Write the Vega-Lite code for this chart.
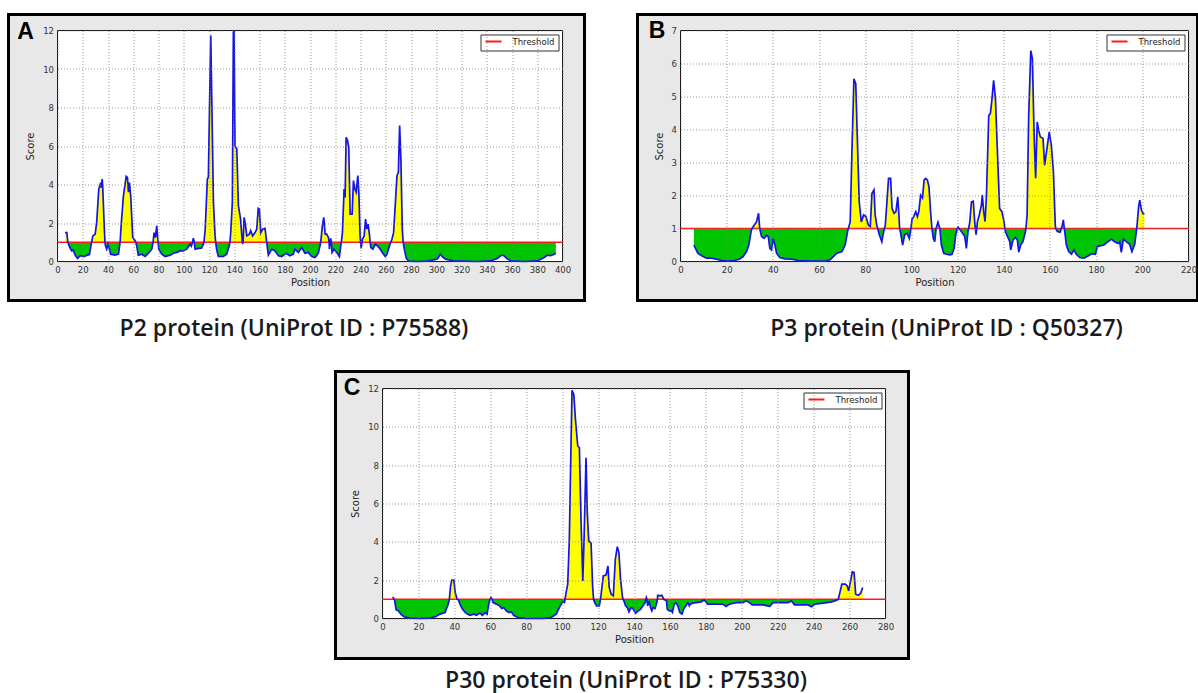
{
  "$schema": "https://vega.github.io/schema/vega-lite/v6.json",
  "background": "white",
  "padding": {"left": 6.5, "top": 12.5, "right": 0, "bottom": 2},
  "config": {
    "view": {"stroke": null},
    "axis": {"grid": true, "gridColor": "#808080", "gridDash": [1, 2], "gridWidth": 0.8, "domain": false, "ticks": false, "labelFont": "DejaVu Sans", "labelFontSize": 8.5, "labelColor": "#333", "labelPadding": 4, "labelFlush": false, "labelOverlap": false, "titleFont": "DejaVu Sans", "titleFontSize": 10, "titleFontWeight": "normal", "titleColor": "#222"},
    "axisX": {"titlePadding": 3},
    "axisY": {"titlePadding": 7},
    "legend": {"orient": "top-right", "offset": 4, "padding": 4, "strokeColor": "#333", "fillColor": "white", "labelFont": "DejaVu Sans", "labelFontSize": 8.5, "labelColor": "#222", "symbolType": "stroke", "symbolStrokeWidth": 2, "symbolSize": 256, "labelOffset": 10, "clipHeight": 6, "cornerRadius": 0},
    "title": {"orient": "bottom", "anchor": "middle", "frame": "group", "font": "Open Sans", "fontSize": 23, "fontWeight": 600, "color": "#1a1a1a", "offset": 16}
  },
  "datasets": {
    "p2": [
      {"pos": 6, "score": 1.5}, {"pos": 7.4, "score": 1.5}, {"pos": 8.2, "score": 1.0}, {"pos": 8.7, "score": 0.9}, {"pos": 10, "score": 0.7}, {"pos": 11.3, "score": 0.55}, {"pos": 12.5, "score": 0.6}, {"pos": 14, "score": 0.33}, {"pos": 15.8, "score": 0.16}, {"pos": 18, "score": 0.3}, {"pos": 20.6, "score": 0.26}, {"pos": 23.7, "score": 0.33}, {"pos": 25.3, "score": 0.36}, {"pos": 26.4, "score": 0.8}, {"pos": 27, "score": 1.0}, {"pos": 28, "score": 1.33}, {"pos": 29.8, "score": 1.42}, {"pos": 31, "score": 2.0}, {"pos": 32.7, "score": 3.76}, {"pos": 33.8, "score": 4.0}, {"pos": 34.6, "score": 3.85}, {"pos": 35.4, "score": 4.28}, {"pos": 35.9, "score": 3.76}, {"pos": 36.9, "score": 2.03}, {"pos": 37.6, "score": 1.0}, {"pos": 38, "score": 0.82}, {"pos": 39, "score": 0.64}, {"pos": 40, "score": 0.9}, {"pos": 41.2, "score": 0.64}, {"pos": 42.2, "score": 0.38}, {"pos": 45.6, "score": 0.33}, {"pos": 48.3, "score": 0.38}, {"pos": 49.6, "score": 1.0}, {"pos": 50.4, "score": 1.86}, {"pos": 52.2, "score": 3.4}, {"pos": 54.4, "score": 4.42}, {"pos": 55.4, "score": 4.37}, {"pos": 56.2, "score": 3.6}, {"pos": 57, "score": 4.1}, {"pos": 58, "score": 3.4}, {"pos": 59.6, "score": 1.25}, {"pos": 61.5, "score": 1.08}, {"pos": 62, "score": 1.0}, {"pos": 62.8, "score": 0.8}, {"pos": 64, "score": 0.33}, {"pos": 66.8, "score": 0.38}, {"pos": 69.4, "score": 0.26}, {"pos": 72, "score": 0.43}, {"pos": 74.7, "score": 0.64}, {"pos": 75.7, "score": 1.0}, {"pos": 76.5, "score": 1.5}, {"pos": 77.6, "score": 1.25}, {"pos": 78.6, "score": 1.86}, {"pos": 79.4, "score": 1.16}, {"pos": 79.7, "score": 1.0}, {"pos": 80.2, "score": 0.64}, {"pos": 82.6, "score": 0.38}, {"pos": 85.2, "score": 0.26}, {"pos": 89.2, "score": 0.33}, {"pos": 91.8, "score": 0.43}, {"pos": 94.5, "score": 0.47}, {"pos": 97, "score": 0.55}, {"pos": 99.7, "score": 0.55}, {"pos": 102.4, "score": 0.64}, {"pos": 105, "score": 0.9}, {"pos": 106, "score": 0.8}, {"pos": 107, "score": 1.0}, {"pos": 107.6, "score": 1.21}, {"pos": 108.3, "score": 1.0}, {"pos": 109, "score": 0.64}, {"pos": 111.6, "score": 0.68}, {"pos": 114, "score": 0.69}, {"pos": 115.6, "score": 0.9}, {"pos": 116, "score": 1.0}, {"pos": 117, "score": 1.68}, {"pos": 118.7, "score": 4.28}, {"pos": 119.5, "score": 4.37}, {"pos": 120.3, "score": 7.58}, {"pos": 121.4, "score": 11.74}, {"pos": 122.2, "score": 8.45}, {"pos": 123.5, "score": 3.07}, {"pos": 124.8, "score": 1.33}, {"pos": 125.3, "score": 1.0}, {"pos": 126, "score": 0.64}, {"pos": 127.4, "score": 0.26}, {"pos": 131.4, "score": 0.26}, {"pos": 134, "score": 0.38}, {"pos": 136, "score": 0.82}, {"pos": 136.6, "score": 1.0}, {"pos": 137.2, "score": 1.5}, {"pos": 138.5, "score": 3.07}, {"pos": 139.3, "score": 11.9}, {"pos": 139.8, "score": 12.0}, {"pos": 140.6, "score": 6.0}, {"pos": 142, "score": 5.84}, {"pos": 143.3, "score": 2.9}, {"pos": 145, "score": 2.2}, {"pos": 146.4, "score": 1.0}, {"pos": 146.7, "score": 0.9}, {"pos": 147, "score": 1.0}, {"pos": 147.8, "score": 2.29}, {"pos": 148.8, "score": 1.94}, {"pos": 149.9, "score": 1.33}, {"pos": 152, "score": 1.42}, {"pos": 153, "score": 1.6}, {"pos": 154.6, "score": 1.33}, {"pos": 156.5, "score": 1.5}, {"pos": 157.8, "score": 1.68}, {"pos": 159, "score": 2.76}, {"pos": 159.9, "score": 2.72}, {"pos": 161, "score": 1.5}, {"pos": 162.5, "score": 1.68}, {"pos": 164.4, "score": 1.72}, {"pos": 165.7, "score": 1.0}, {"pos": 167, "score": 0.33}, {"pos": 169.7, "score": 0.64}, {"pos": 172.3, "score": 0.55}, {"pos": 175, "score": 0.3}, {"pos": 177.6, "score": 0.26}, {"pos": 181, "score": 0.43}, {"pos": 184, "score": 0.3}, {"pos": 186.8, "score": 0.38}, {"pos": 188, "score": 0.64}, {"pos": 190.7, "score": 0.47}, {"pos": 193.4, "score": 0.73}, {"pos": 196, "score": 0.43}, {"pos": 198.7, "score": 0.47}, {"pos": 201.3, "score": 0.26}, {"pos": 204, "score": 0.21}, {"pos": 206.6, "score": 0.43}, {"pos": 208.5, "score": 1.0}, {"pos": 209.8, "score": 1.86}, {"pos": 210.9, "score": 2.29}, {"pos": 212, "score": 1.42}, {"pos": 213.2, "score": 1.42}, {"pos": 214.6, "score": 1.25}, {"pos": 215.1, "score": 1.0}, {"pos": 215.4, "score": 0.64}, {"pos": 215.9, "score": 1.0}, {"pos": 216.4, "score": 1.2}, {"pos": 216.9, "score": 1.0}, {"pos": 217.5, "score": 0.47}, {"pos": 219, "score": 0.64}, {"pos": 221.2, "score": 0.47}, {"pos": 223.3, "score": 0.26}, {"pos": 224.4, "score": 0.82}, {"pos": 224.8, "score": 1.0}, {"pos": 225.7, "score": 1.5}, {"pos": 227, "score": 3.76}, {"pos": 227.8, "score": 3.33}, {"pos": 228.6, "score": 6.45}, {"pos": 229.7, "score": 6.28}, {"pos": 230.7, "score": 5.93}, {"pos": 231.8, "score": 2.46}, {"pos": 233.4, "score": 2.46}, {"pos": 234.4, "score": 4.2}, {"pos": 235.5, "score": 3.76}, {"pos": 236.6, "score": 3.6}, {"pos": 237.9, "score": 4.46}, {"pos": 238.7, "score": 3.6}, {"pos": 239.7, "score": 1.33}, {"pos": 240.1, "score": 1.0}, {"pos": 240.5, "score": 0.68}, {"pos": 241.2, "score": 1.0}, {"pos": 241.6, "score": 1.16}, {"pos": 242.9, "score": 1.33}, {"pos": 244, "score": 2.2}, {"pos": 245, "score": 1.68}, {"pos": 246, "score": 1.94}, {"pos": 247.2, "score": 1.33}, {"pos": 247.6, "score": 1.0}, {"pos": 248.2, "score": 0.73}, {"pos": 249.8, "score": 0.64}, {"pos": 251.7, "score": 0.9}, {"pos": 253.5, "score": 0.82}, {"pos": 255.6, "score": 0.64}, {"pos": 257.7, "score": 0.43}, {"pos": 259.6, "score": 0.26}, {"pos": 261, "score": 0.38}, {"pos": 263, "score": 0.82}, {"pos": 264, "score": 1.0}, {"pos": 264.9, "score": 1.16}, {"pos": 266.2, "score": 1.5}, {"pos": 267.5, "score": 2.9}, {"pos": 268.9, "score": 4.46}, {"pos": 270, "score": 4.63}, {"pos": 271, "score": 7.06}, {"pos": 272, "score": 5.32}, {"pos": 273.1, "score": 1.68}, {"pos": 273.8, "score": 1.0}, {"pos": 274.7, "score": 0.64}, {"pos": 276.3, "score": 0.16}, {"pos": 278.1, "score": 0.02}, {"pos": 284.8, "score": 0}, {"pos": 292.7, "score": 0.02}, {"pos": 296.7, "score": 0.07}, {"pos": 300.7, "score": 0.12}, {"pos": 303.3, "score": 0.38}, {"pos": 304.6, "score": 0.26}, {"pos": 307.3, "score": 0.12}, {"pos": 313.9, "score": 0.03}, {"pos": 321.9, "score": 0.02}, {"pos": 332.5, "score": 0}, {"pos": 343, "score": 0.03}, {"pos": 348.3, "score": 0.16}, {"pos": 351, "score": 0.3}, {"pos": 353.1, "score": 0.33}, {"pos": 355.8, "score": 0.16}, {"pos": 358.9, "score": 0.03}, {"pos": 369.5, "score": 0}, {"pos": 380.1, "score": 0.03}, {"pos": 385.4, "score": 0.21}, {"pos": 388, "score": 0.33}, {"pos": 390.7, "score": 0.3}, {"pos": 393.4, "score": 0.38}, {"pos": 394.7, "score": 0.43}
    ],
    "p3": [
      {"pos": 5.8, "score": 0.5}, {"pos": 6.8, "score": 0.35}, {"pos": 7.5, "score": 0.25}, {"pos": 9, "score": 0.18}, {"pos": 11.2, "score": 0.1}, {"pos": 13.3, "score": 0.1}, {"pos": 15.5, "score": 0.07}, {"pos": 17.7, "score": 0.03}, {"pos": 20.6, "score": 0.01}, {"pos": 23.5, "score": 0.03}, {"pos": 25.7, "score": 0.08}, {"pos": 27.1, "score": 0.15}, {"pos": 28.6, "score": 0.3}, {"pos": 29.6, "score": 0.5}, {"pos": 30.7, "score": 0.96}, {"pos": 31, "score": 1.0}, {"pos": 31.9, "score": 1.1}, {"pos": 32.9, "score": 1.2}, {"pos": 33.8, "score": 1.46}, {"pos": 34.3, "score": 1.0}, {"pos": 35.1, "score": 0.76}, {"pos": 36.2, "score": 0.7}, {"pos": 37.2, "score": 0.79}, {"pos": 38, "score": 0.76}, {"pos": 38.7, "score": 0.4}, {"pos": 39.4, "score": 0.35}, {"pos": 40.1, "score": 0.7}, {"pos": 40.9, "score": 0.5}, {"pos": 41.6, "score": 0.25}, {"pos": 43, "score": 0.12}, {"pos": 45.2, "score": 0.08}, {"pos": 48.1, "score": 0.07}, {"pos": 51, "score": 0.03}, {"pos": 56.8, "score": 0.01}, {"pos": 62.6, "score": 0.01}, {"pos": 64.8, "score": 0.05}, {"pos": 66.2, "score": 0.15}, {"pos": 67.7, "score": 0.25}, {"pos": 69.9, "score": 0.3}, {"pos": 71.3, "score": 0.5}, {"pos": 72.5, "score": 0.96}, {"pos": 72.7, "score": 1.0}, {"pos": 73.5, "score": 1.2}, {"pos": 74.2, "score": 3.22}, {"pos": 75.1, "score": 5.54}, {"pos": 75.9, "score": 5.39}, {"pos": 76.5, "score": 3.93}, {"pos": 77.4, "score": 1.81}, {"pos": 78.3, "score": 1.2}, {"pos": 79.3, "score": 1.41}, {"pos": 80.3, "score": 1.36}, {"pos": 81.4, "score": 1.1}, {"pos": 82.2, "score": 1.06}, {"pos": 82.9, "score": 2.06}, {"pos": 83.8, "score": 2.17}, {"pos": 84.3, "score": 1.41}, {"pos": 85, "score": 1.1}, {"pos": 85.4, "score": 1.0}, {"pos": 86.1, "score": 0.81}, {"pos": 87.2, "score": 0.6}, {"pos": 88, "score": 0.91}, {"pos": 88.3, "score": 1.0}, {"pos": 88.7, "score": 1.1}, {"pos": 89.4, "score": 1.81}, {"pos": 90.1, "score": 2.52}, {"pos": 91, "score": 2.52}, {"pos": 91.6, "score": 1.61}, {"pos": 92.5, "score": 1.46}, {"pos": 93.3, "score": 1.51}, {"pos": 94.1, "score": 1.96}, {"pos": 94.5, "score": 1.51}, {"pos": 94.9, "score": 1.0}, {"pos": 95.2, "score": 0.91}, {"pos": 96.2, "score": 0.5}, {"pos": 97.1, "score": 0.81}, {"pos": 98.1, "score": 0.86}, {"pos": 99.1, "score": 0.7}, {"pos": 99.8, "score": 1.0}, {"pos": 100.3, "score": 1.29}, {"pos": 101, "score": 1.36}, {"pos": 101.9, "score": 1.51}, {"pos": 102.6, "score": 1.36}, {"pos": 103.2, "score": 1.51}, {"pos": 104, "score": 2.01}, {"pos": 104.8, "score": 1.93}, {"pos": 105.5, "score": 2.47}, {"pos": 106.2, "score": 2.52}, {"pos": 106.9, "score": 2.47}, {"pos": 107.6, "score": 2.27}, {"pos": 108.4, "score": 1.41}, {"pos": 108.9, "score": 1.0}, {"pos": 109.5, "score": 0.7}, {"pos": 110.1, "score": 0.6}, {"pos": 110.7, "score": 1.0}, {"pos": 111.5, "score": 1.19}, {"pos": 112.3, "score": 1.0}, {"pos": 113, "score": 0.5}, {"pos": 114, "score": 0.25}, {"pos": 115.2, "score": 0.22}, {"pos": 116.6, "score": 0.2}, {"pos": 117.6, "score": 0.22}, {"pos": 118.5, "score": 0.4}, {"pos": 119.2, "score": 0.81}, {"pos": 119.9, "score": 1.0}, {"pos": 120.2, "score": 1.04}, {"pos": 120.6, "score": 1.0}, {"pos": 121.1, "score": 0.96}, {"pos": 122.1, "score": 0.86}, {"pos": 123.1, "score": 0.76}, {"pos": 123.8, "score": 0.4}, {"pos": 124.5, "score": 0.91}, {"pos": 124.8, "score": 1.0}, {"pos": 125.3, "score": 1.21}, {"pos": 126, "score": 1.81}, {"pos": 126.8, "score": 1.83}, {"pos": 127.4, "score": 1.21}, {"pos": 127.7, "score": 1.0}, {"pos": 128, "score": 0.81}, {"pos": 128.3, "score": 1.0}, {"pos": 128.6, "score": 1.21}, {"pos": 129.4, "score": 1.41}, {"pos": 130.3, "score": 1.71}, {"pos": 130.7, "score": 2.01}, {"pos": 131.3, "score": 1.51}, {"pos": 131.9, "score": 1.21}, {"pos": 132.5, "score": 2.01}, {"pos": 133.5, "score": 4.43}, {"pos": 134.2, "score": 4.48}, {"pos": 134.9, "score": 4.93}, {"pos": 135.6, "score": 5.49}, {"pos": 136.4, "score": 4.93}, {"pos": 137.2, "score": 3.42}, {"pos": 138.2, "score": 1.61}, {"pos": 139.2, "score": 1.51}, {"pos": 140.1, "score": 1.21}, {"pos": 140.5, "score": 1.0}, {"pos": 140.7, "score": 0.91}, {"pos": 141.6, "score": 0.76}, {"pos": 142.6, "score": 0.6}, {"pos": 143, "score": 0.35}, {"pos": 144, "score": 0.65}, {"pos": 145, "score": 0.73}, {"pos": 145.9, "score": 0.65}, {"pos": 146.5, "score": 0.28}, {"pos": 147.3, "score": 0.5}, {"pos": 148.3, "score": 0.6}, {"pos": 149.4, "score": 0.91}, {"pos": 149.6, "score": 1.0}, {"pos": 150.1, "score": 1.41}, {"pos": 150.8, "score": 4.43}, {"pos": 151.7, "score": 6.39}, {"pos": 152.4, "score": 6.14}, {"pos": 153.1, "score": 3.93}, {"pos": 153.8, "score": 2.52}, {"pos": 154.5, "score": 4.23}, {"pos": 155.1, "score": 3.98}, {"pos": 155.8, "score": 3.78}, {"pos": 157, "score": 3.73}, {"pos": 157.7, "score": 2.92}, {"pos": 158.7, "score": 3.42}, {"pos": 159.7, "score": 3.93}, {"pos": 160.6, "score": 3.52}, {"pos": 161.5, "score": 2.72}, {"pos": 162.3, "score": 1.11}, {"pos": 162.5, "score": 1.0}, {"pos": 163.2, "score": 0.91}, {"pos": 164.4, "score": 0.89}, {"pos": 164.9, "score": 1.0}, {"pos": 165.1, "score": 1.02}, {"pos": 165.8, "score": 1.26}, {"pos": 166.2, "score": 1.0}, {"pos": 166.4, "score": 0.91}, {"pos": 167.1, "score": 0.5}, {"pos": 168.1, "score": 0.3}, {"pos": 169.3, "score": 0.22}, {"pos": 170.4, "score": 0.35}, {"pos": 171.4, "score": 0.22}, {"pos": 172.9, "score": 0.12}, {"pos": 174.7, "score": 0.1}, {"pos": 176.5, "score": 0.17}, {"pos": 178.2, "score": 0.24}, {"pos": 179.7, "score": 0.22}, {"pos": 180.5, "score": 0.45}, {"pos": 182, "score": 0.48}, {"pos": 183.4, "score": 0.5}, {"pos": 185.1, "score": 0.6}, {"pos": 186.6, "score": 0.68}, {"pos": 188, "score": 0.6}, {"pos": 189.5, "score": 0.55}, {"pos": 190.2, "score": 0.6}, {"pos": 190.9, "score": 0.28}, {"pos": 191.8, "score": 0.68}, {"pos": 193.1, "score": 0.6}, {"pos": 194.5, "score": 0.52}, {"pos": 195.5, "score": 0.3}, {"pos": 196.7, "score": 0.52}, {"pos": 197.5, "score": 0.96}, {"pos": 197.6, "score": 1.0}, {"pos": 198.4, "score": 1.66}, {"pos": 198.9, "score": 1.86}, {"pos": 199.6, "score": 1.56}, {"pos": 200.3, "score": 1.46}, {"pos": 200.9, "score": 1.43}
    ],
    "p30": [
      {"pos": 5.7, "score": 1.13}, {"pos": 6.5, "score": 1.0}, {"pos": 6.7, "score": 0.97}, {"pos": 7.6, "score": 0.45}, {"pos": 8.9, "score": 0.4}, {"pos": 10.2, "score": 0.23}, {"pos": 12, "score": 0.09}, {"pos": 15.3, "score": 0.02}, {"pos": 20.9, "score": 0}, {"pos": 26.4, "score": 0.02}, {"pos": 29.8, "score": 0.1}, {"pos": 32, "score": 0.23}, {"pos": 34.8, "score": 0.31}, {"pos": 36.6, "score": 0.75}, {"pos": 37.2, "score": 1.0}, {"pos": 37.9, "score": 1.7}, {"pos": 38.6, "score": 2.01}, {"pos": 39.7, "score": 2.01}, {"pos": 40.5, "score": 1.35}, {"pos": 41.4, "score": 1.04}, {"pos": 41.6, "score": 1.0}, {"pos": 42.3, "score": 0.97}, {"pos": 43.1, "score": 0.75}, {"pos": 44.5, "score": 0.49}, {"pos": 46.4, "score": 0.28}, {"pos": 48.6, "score": 0.17}, {"pos": 50.8, "score": 0.23}, {"pos": 52.3, "score": 0.17}, {"pos": 54.2, "score": 0.28}, {"pos": 55.6, "score": 0.17}, {"pos": 57.1, "score": 0.31}, {"pos": 58.2, "score": 0.23}, {"pos": 59.3, "score": 0.83}, {"pos": 59.9, "score": 1.0}, {"pos": 60.4, "score": 1.09}, {"pos": 61, "score": 1.0}, {"pos": 61.6, "score": 0.83}, {"pos": 63.4, "score": 0.75}, {"pos": 65.2, "score": 0.66}, {"pos": 66.4, "score": 0.52}, {"pos": 67.5, "score": 0.57}, {"pos": 68.9, "score": 0.4}, {"pos": 70.4, "score": 0.31}, {"pos": 71.7, "score": 0.35}, {"pos": 73, "score": 0.17}, {"pos": 75.4, "score": 0.05}, {"pos": 80, "score": 0}, {"pos": 89.3, "score": 0}, {"pos": 93.9, "score": 0.05}, {"pos": 96.7, "score": 0.23}, {"pos": 98.9, "score": 0.66}, {"pos": 100.4, "score": 0.87}, {"pos": 101.3, "score": 0.83}, {"pos": 101.6, "score": 1.0}, {"pos": 102.2, "score": 1.35}, {"pos": 103.1, "score": 1.79}, {"pos": 104, "score": 4.13}, {"pos": 105, "score": 9.34}, {"pos": 105.5, "score": 11.91}, {"pos": 106.5, "score": 11.69}, {"pos": 107.4, "score": 10.39}, {"pos": 108.7, "score": 9.0}, {"pos": 109.6, "score": 8.91}, {"pos": 110.5, "score": 5.18}, {"pos": 111.5, "score": 1.96}, {"pos": 112.2, "score": 4.13}, {"pos": 113.3, "score": 8.39}, {"pos": 114, "score": 5.52}, {"pos": 114.8, "score": 4.05}, {"pos": 116.1, "score": 3.93}, {"pos": 117, "score": 1.62}, {"pos": 117.5, "score": 1.0}, {"pos": 118.1, "score": 0.83}, {"pos": 119.2, "score": 0.66}, {"pos": 120.7, "score": 0.66}, {"pos": 121.3, "score": 1.0}, {"pos": 121.6, "score": 1.18}, {"pos": 122.9, "score": 2.22}, {"pos": 124.4, "score": 2.26}, {"pos": 125.5, "score": 2.74}, {"pos": 126.2, "score": 1.62}, {"pos": 127.3, "score": 1.27}, {"pos": 128.5, "score": 1.18}, {"pos": 129.6, "score": 3.09}, {"pos": 130.7, "score": 3.75}, {"pos": 131.6, "score": 3.44}, {"pos": 132.5, "score": 2.05}, {"pos": 133.5, "score": 1.18}, {"pos": 133.9, "score": 1.0}, {"pos": 134.4, "score": 0.92}, {"pos": 135.3, "score": 0.66}, {"pos": 136.3, "score": 0.57}, {"pos": 137.2, "score": 0.35}, {"pos": 138.3, "score": 0.57}, {"pos": 139.4, "score": 0.52}, {"pos": 140.9, "score": 0.28}, {"pos": 142.4, "score": 0.4}, {"pos": 143.7, "score": 0.49}, {"pos": 145, "score": 0.66}, {"pos": 146.2, "score": 0.83}, {"pos": 146.6, "score": 1.0}, {"pos": 146.9, "score": 1.09}, {"pos": 147.2, "score": 1.0}, {"pos": 147.6, "score": 0.66}, {"pos": 148.4, "score": 0.92}, {"pos": 149.1, "score": 0.61}, {"pos": 149.9, "score": 0.4}, {"pos": 150.6, "score": 0.57}, {"pos": 151.7, "score": 0.52}, {"pos": 152.7, "score": 0.83}, {"pos": 153, "score": 1.0}, {"pos": 153.2, "score": 1.21}, {"pos": 154.4, "score": 1.18}, {"pos": 155.5, "score": 1.21}, {"pos": 156.6, "score": 1.0}, {"pos": 158.1, "score": 0.92}, {"pos": 158.5, "score": 0.49}, {"pos": 159.6, "score": 0.4}, {"pos": 160.7, "score": 0.4}, {"pos": 161.4, "score": 0.31}, {"pos": 162.4, "score": 0.75}, {"pos": 163.3, "score": 0.83}, {"pos": 164.4, "score": 0.66}, {"pos": 165.5, "score": 0.31}, {"pos": 166.7, "score": 0.23}, {"pos": 167.8, "score": 0.52}, {"pos": 168.9, "score": 0.66}, {"pos": 170, "score": 0.83}, {"pos": 170.8, "score": 0.66}, {"pos": 171.3, "score": 0.75}, {"pos": 172.6, "score": 0.8}, {"pos": 174.5, "score": 0.83}, {"pos": 177.3, "score": 0.87}, {"pos": 179.1, "score": 0.97}, {"pos": 181, "score": 0.75}, {"pos": 185.7, "score": 0.75}, {"pos": 189.4, "score": 0.75}, {"pos": 191.3, "score": 0.63}, {"pos": 193.1, "score": 0.75}, {"pos": 196.9, "score": 0.83}, {"pos": 200.6, "score": 0.83}, {"pos": 202.4, "score": 0.92}, {"pos": 204.3, "score": 0.83}, {"pos": 205.8, "score": 0.71}, {"pos": 211.8, "score": 0.71}, {"pos": 215.5, "score": 0.63}, {"pos": 217.4, "score": 0.83}, {"pos": 222.9, "score": 0.83}, {"pos": 225.7, "score": 0.83}, {"pos": 227.6, "score": 0.92}, {"pos": 229.4, "score": 0.71}, {"pos": 234.1, "score": 0.71}, {"pos": 236.9, "score": 0.71}, {"pos": 238.8, "score": 0.61}, {"pos": 240.7, "score": 0.75}, {"pos": 245.3, "score": 0.8}, {"pos": 250, "score": 0.87}, {"pos": 251.8, "score": 0.92}, {"pos": 253.7, "score": 1.0}, {"pos": 254.6, "score": 1.35}, {"pos": 255.7, "score": 1.79}, {"pos": 257.6, "score": 1.79}, {"pos": 258.7, "score": 1.7}, {"pos": 259.5, "score": 1.44}, {"pos": 260.6, "score": 1.96}, {"pos": 261.5, "score": 2.43}, {"pos": 262.5, "score": 2.4}, {"pos": 263.4, "score": 1.27}, {"pos": 264.9, "score": 1.21}, {"pos": 266.2, "score": 1.32}, {"pos": 267.3, "score": 1.62}
    ]
  },
  "spacing": 28,
  "resolve": {"scale": {"x": "independent", "y": "independent", "color": "independent"}, "legend": {"color": "independent"}},
  "vconcat": [
    {
      "spacing": 49,
      "resolve": {"scale": {"x": "independent", "y": "independent", "color": "independent"}, "legend": {"color": "independent"}},
      "hconcat": [
        {
          "width": 505, "height": 231,
          "title": {"text": "P2 protein (UniProt ID : P75588)", "dx": -16},
          "data": {"name": "p2"},
          "layer": [
            {"data": {"values": [{}]}, "mark": {"type": "rect", "fill": "#e8e8e8", "stroke": "#000", "strokeWidth": 3},
             "encoding": {
               "x": {"datum": -38.81, "type": "quantitative", "scale": {"domain": [0, 400], "nice": false, "zero": false}, "axis": {"zindex": 1, "labelOverlap": false, "values": [0,20,40,60,80,100,120,140,160,180,200,220,240,260,280,300,320,340,360,380,400], "title": "Position"}},
               "x2": {"datum": 417.43},
               "y": {"datum": -2.026, "type": "quantitative", "scale": {"domain": [0, 12], "nice": false, "zero": false}, "axis": {"zindex": 1, "labelOverlap": false, "values": [0,2,4,6,8,10,12], "title": "Score"}},
               "y2": {"datum": 12.831}}},
            {"data": {"values": [{}]}, "mark": {"type": "rect", "fill": "white", "stroke": "#111", "strokeWidth": 1},
             "encoding": {"x": {"datum": 0, "type": "quantitative", "scale": {"domain": [0, 400], "nice": false, "zero": false}, "axis": {"zindex": 1, "labelOverlap": false, "values": [0,20,40,60,80,100,120,140,160,180,200,220,240,260,280,300,320,340,360,380,400], "title": "Position"}}, "x2": {"datum": 400}, "y": {"datum": 0, "type": "quantitative", "scale": {"domain": [0, 12], "nice": false, "zero": false}, "axis": {"zindex": 1, "labelOverlap": false, "values": [0,2,4,6,8,10,12], "title": "Score"}}, "y2": {"datum": 12}}},
            {"transform": [{"filter": "datum.score <= 1"}], "mark": {"type": "area", "color": "#00c400"},
             "encoding": {"x": {"field": "pos", "type": "quantitative", "scale": {"domain": [0, 400], "nice": false, "zero": false}, "axis": {"zindex": 1, "labelOverlap": false, "values": [0,20,40,60,80,100,120,140,160,180,200,220,240,260,280,300,320,340,360,380,400], "title": "Position"}}, "y": {"field": "score", "type": "quantitative", "scale": {"domain": [0, 12], "nice": false, "zero": false}, "axis": {"zindex": 1, "labelOverlap": false, "values": [0,2,4,6,8,10,12], "title": "Score"}}, "y2": {"datum": 1}}},
            {"transform": [{"filter": "datum.score >= 1"}], "mark": {"type": "area", "color": "#ffff00"},
             "encoding": {"x": {"field": "pos", "type": "quantitative", "scale": {"domain": [0, 400], "nice": false, "zero": false}, "axis": {"zindex": 1, "labelOverlap": false, "values": [0,20,40,60,80,100,120,140,160,180,200,220,240,260,280,300,320,340,360,380,400], "title": "Position"}}, "y": {"field": "score", "type": "quantitative", "scale": {"domain": [0, 12], "nice": false, "zero": false}, "axis": {"zindex": 1, "labelOverlap": false, "values": [0,2,4,6,8,10,12], "title": "Score"}}, "y2": {"datum": 1}}},
            {"data": {"values": [{}]}, "mark": {"type": "rule", "strokeWidth": 1.5},
             "encoding": {"y": {"datum": 1, "type": "quantitative", "scale": {"domain": [0, 12], "nice": false, "zero": false}, "axis": {"zindex": 1, "labelOverlap": false, "values": [0,2,4,6,8,10,12], "title": "Score"}}, "color": {"datum": "Threshold", "type": "nominal", "scale": {"domain": ["Threshold"], "range": ["#ff1a1a"]}, "legend": {"title": null}}}},
            {"mark": {"type": "line", "color": "#1414e6", "strokeWidth": 1.7},
             "encoding": {"x": {"field": "pos", "type": "quantitative", "scale": {"domain": [0, 400], "nice": false, "zero": false}, "axis": {"zindex": 1, "labelOverlap": false, "values": [0,20,40,60,80,100,120,140,160,180,200,220,240,260,280,300,320,340,360,380,400], "title": "Position"}}, "y": {"field": "score", "type": "quantitative", "scale": {"domain": [0, 12], "nice": false, "zero": false}, "axis": {"zindex": 1, "labelOverlap": false, "values": [0,2,4,6,8,10,12], "title": "Score"}}}},
            {"data": {"values": [{}]}, "mark": {"type": "text", "text": "A", "fontSize": 23, "fontWeight": "bold", "font": "Liberation Sans", "align": "center", "baseline": "middle", "color": "#000"},
             "encoding": {"x": {"datum": -25.3, "type": "quantitative", "scale": {"domain": [0, 400], "nice": false, "zero": false}, "axis": {"zindex": 1, "labelOverlap": false, "values": [0,20,40,60,80,100,120,140,160,180,200,220,240,260,280,300,320,340,360,380,400], "title": "Position"}}, "y": {"datum": 11.92, "type": "quantitative", "scale": {"domain": [0, 12], "nice": false, "zero": false}, "axis": {"zindex": 1, "labelOverlap": false, "values": [0,2,4,6,8,10,12], "title": "Score"}}}}
          ]
        },
        {
          "width": 508, "height": 231,
          "title": {"text": "P3 protein (UniProt ID : Q50327)", "dx": 12},
          "data": {"name": "p3"},
          "layer": [
            {"data": {"values": [{}]}, "mark": {"type": "rect", "fill": "#e8e8e8", "stroke": "#000", "strokeWidth": 3},
             "encoding": {
               "x": {"datum": -18.62, "type": "quantitative", "scale": {"domain": [0, 220], "nice": false, "zero": false}, "axis": {"zindex": 1, "labelOverlap": false, "values": [0,20,40,60,80,100,120,140,160,180,200,220], "title": "Position"}},
               "x2": {"datum": 223.9},
               "y": {"datum": -1.182, "type": "quantitative", "scale": {"domain": [0, 7], "nice": false, "zero": false}, "axis": {"zindex": 1, "labelOverlap": false, "values": [0,1,2,3,4,5,6,7], "title": "Score"}},
               "y2": {"datum": 7.485}}},
            {"data": {"values": [{}]}, "mark": {"type": "rect", "fill": "white", "stroke": "#111", "strokeWidth": 1},
             "encoding": {"x": {"datum": 0, "type": "quantitative", "scale": {"domain": [0, 220], "nice": false, "zero": false}, "axis": {"zindex": 1, "labelOverlap": false, "values": [0,20,40,60,80,100,120,140,160,180,200,220], "title": "Position"}}, "x2": {"datum": 220}, "y": {"datum": 0, "type": "quantitative", "scale": {"domain": [0, 7], "nice": false, "zero": false}, "axis": {"zindex": 1, "labelOverlap": false, "values": [0,1,2,3,4,5,6,7], "title": "Score"}}, "y2": {"datum": 7}}},
            {"transform": [{"filter": "datum.score <= 1"}], "mark": {"type": "area", "color": "#00c400"},
             "encoding": {"x": {"field": "pos", "type": "quantitative", "scale": {"domain": [0, 220], "nice": false, "zero": false}, "axis": {"zindex": 1, "labelOverlap": false, "values": [0,20,40,60,80,100,120,140,160,180,200,220], "title": "Position"}}, "y": {"field": "score", "type": "quantitative", "scale": {"domain": [0, 7], "nice": false, "zero": false}, "axis": {"zindex": 1, "labelOverlap": false, "values": [0,1,2,3,4,5,6,7], "title": "Score"}}, "y2": {"datum": 1}}},
            {"transform": [{"filter": "datum.score >= 1"}], "mark": {"type": "area", "color": "#ffff00"},
             "encoding": {"x": {"field": "pos", "type": "quantitative", "scale": {"domain": [0, 220], "nice": false, "zero": false}, "axis": {"zindex": 1, "labelOverlap": false, "values": [0,20,40,60,80,100,120,140,160,180,200,220], "title": "Position"}}, "y": {"field": "score", "type": "quantitative", "scale": {"domain": [0, 7], "nice": false, "zero": false}, "axis": {"zindex": 1, "labelOverlap": false, "values": [0,1,2,3,4,5,6,7], "title": "Score"}}, "y2": {"datum": 1}}},
            {"data": {"values": [{}]}, "mark": {"type": "rule", "strokeWidth": 1.5},
             "encoding": {"y": {"datum": 1, "type": "quantitative", "scale": {"domain": [0, 7], "nice": false, "zero": false}, "axis": {"zindex": 1, "labelOverlap": false, "values": [0,1,2,3,4,5,6,7], "title": "Score"}}, "color": {"datum": "Threshold", "type": "nominal", "scale": {"domain": ["Threshold"], "range": ["#ff1a1a"]}, "legend": {"title": null}}}},
            {"mark": {"type": "line", "color": "#1414e6", "strokeWidth": 1.7},
             "encoding": {"x": {"field": "pos", "type": "quantitative", "scale": {"domain": [0, 220], "nice": false, "zero": false}, "axis": {"zindex": 1, "labelOverlap": false, "values": [0,20,40,60,80,100,120,140,160,180,200,220], "title": "Position"}}, "y": {"field": "score", "type": "quantitative", "scale": {"domain": [0, 7], "nice": false, "zero": false}, "axis": {"zindex": 1, "labelOverlap": false, "values": [0,1,2,3,4,5,6,7], "title": "Score"}}}},
            {"data": {"values": [{}]}, "mark": {"type": "text", "text": "B", "fontSize": 23, "fontWeight": "bold", "font": "Liberation Sans", "align": "center", "baseline": "middle", "color": "#000"},
             "encoding": {"x": {"datum": -10.2, "type": "quantitative", "scale": {"domain": [0, 220], "nice": false, "zero": false}, "axis": {"zindex": 1, "labelOverlap": false, "values": [0,20,40,60,80,100,120,140,160,180,200,220], "title": "Position"}}, "y": {"datum": 6.97, "type": "quantitative", "scale": {"domain": [0, 7], "nice": false, "zero": false}, "axis": {"zindex": 1, "labelOverlap": false, "values": [0,1,2,3,4,5,6,7], "title": "Score"}}}}
          ]
        }
      ]
    },
    {
      "spacing": 10,
      "resolve": {"scale": {"x": "independent", "y": "independent", "color": "independent"}, "legend": {"color": "independent"}},
      "hconcat": [
        {"width": 266, "height": 10, "data": {"values": []}, "mark": {"type": "point", "opacity": 0}},
        {
          "width": 503, "height": 230,
          "title": {"text": "P30 protein (UniProt ID : P75330)", "dx": -8, "offset": 10},
          "data": {"name": "p30"},
          "layer": [
            {"data": {"values": [{}]}, "mark": {"type": "rect", "fill": "#e8e8e8", "stroke": "#000", "strokeWidth": 3},
             "encoding": {
               "x": {"datum": -26.16, "type": "quantitative", "scale": {"domain": [0, 280], "nice": false, "zero": false}, "axis": {"zindex": 1, "labelOverlap": false, "values": [0,20,40,60,80,100,120,140,160,180,200,220,240,260,280], "title": "Position"}},
               "x2": {"datum": 292.8},
               "y": {"datum": -2.087, "type": "quantitative", "scale": {"domain": [0, 12], "nice": false, "zero": false}, "axis": {"zindex": 1, "labelOverlap": false, "values": [0,2,4,6,8,10,12], "title": "Score"}},
               "y2": {"datum": 12.887}}},
            {"data": {"values": [{}]}, "mark": {"type": "rect", "fill": "white", "stroke": "#111", "strokeWidth": 1},
             "encoding": {"x": {"datum": 0, "type": "quantitative", "scale": {"domain": [0, 280], "nice": false, "zero": false}, "axis": {"zindex": 1, "labelOverlap": false, "values": [0,20,40,60,80,100,120,140,160,180,200,220,240,260,280], "title": "Position"}}, "x2": {"datum": 280}, "y": {"datum": 0, "type": "quantitative", "scale": {"domain": [0, 12], "nice": false, "zero": false}, "axis": {"zindex": 1, "labelOverlap": false, "values": [0,2,4,6,8,10,12], "title": "Score"}}, "y2": {"datum": 12}}},
            {"transform": [{"filter": "datum.score <= 1"}], "mark": {"type": "area", "color": "#00c400"},
             "encoding": {"x": {"field": "pos", "type": "quantitative", "scale": {"domain": [0, 280], "nice": false, "zero": false}, "axis": {"zindex": 1, "labelOverlap": false, "values": [0,20,40,60,80,100,120,140,160,180,200,220,240,260,280], "title": "Position"}}, "y": {"field": "score", "type": "quantitative", "scale": {"domain": [0, 12], "nice": false, "zero": false}, "axis": {"zindex": 1, "labelOverlap": false, "values": [0,2,4,6,8,10,12], "title": "Score"}}, "y2": {"datum": 1}}},
            {"transform": [{"filter": "datum.score >= 1"}], "mark": {"type": "area", "color": "#ffff00"},
             "encoding": {"x": {"field": "pos", "type": "quantitative", "scale": {"domain": [0, 280], "nice": false, "zero": false}, "axis": {"zindex": 1, "labelOverlap": false, "values": [0,20,40,60,80,100,120,140,160,180,200,220,240,260,280], "title": "Position"}}, "y": {"field": "score", "type": "quantitative", "scale": {"domain": [0, 12], "nice": false, "zero": false}, "axis": {"zindex": 1, "labelOverlap": false, "values": [0,2,4,6,8,10,12], "title": "Score"}}, "y2": {"datum": 1}}},
            {"data": {"values": [{}]}, "mark": {"type": "rule", "strokeWidth": 1.5},
             "encoding": {"y": {"datum": 1, "type": "quantitative", "scale": {"domain": [0, 12], "nice": false, "zero": false}, "axis": {"zindex": 1, "labelOverlap": false, "values": [0,2,4,6,8,10,12], "title": "Score"}}, "color": {"datum": "Threshold", "type": "nominal", "scale": {"domain": ["Threshold"], "range": ["#ff1a1a"]}, "legend": {"title": null}}}},
            {"mark": {"type": "line", "color": "#1414e6", "strokeWidth": 1.7},
             "encoding": {"x": {"field": "pos", "type": "quantitative", "scale": {"domain": [0, 280], "nice": false, "zero": false}, "axis": {"zindex": 1, "labelOverlap": false, "values": [0,20,40,60,80,100,120,140,160,180,200,220,240,260,280], "title": "Position"}}, "y": {"field": "score", "type": "quantitative", "scale": {"domain": [0, 12], "nice": false, "zero": false}, "axis": {"zindex": 1, "labelOverlap": false, "values": [0,2,4,6,8,10,12], "title": "Score"}}}},
            {"data": {"values": [{}]}, "mark": {"type": "text", "text": "C", "fontSize": 23, "fontWeight": "bold", "font": "Liberation Sans", "align": "center", "baseline": "middle", "color": "#000"},
             "encoding": {"x": {"datum": -17.0, "type": "quantitative", "scale": {"domain": [0, 280], "nice": false, "zero": false}, "axis": {"zindex": 1, "labelOverlap": false, "values": [0,20,40,60,80,100,120,140,160,180,200,220,240,260,280], "title": "Position"}}, "y": {"datum": 12.03, "type": "quantitative", "scale": {"domain": [0, 12], "nice": false, "zero": false}, "axis": {"zindex": 1, "labelOverlap": false, "values": [0,2,4,6,8,10,12], "title": "Score"}}}}
          ]
        }
      ]
    }
  ]
}
